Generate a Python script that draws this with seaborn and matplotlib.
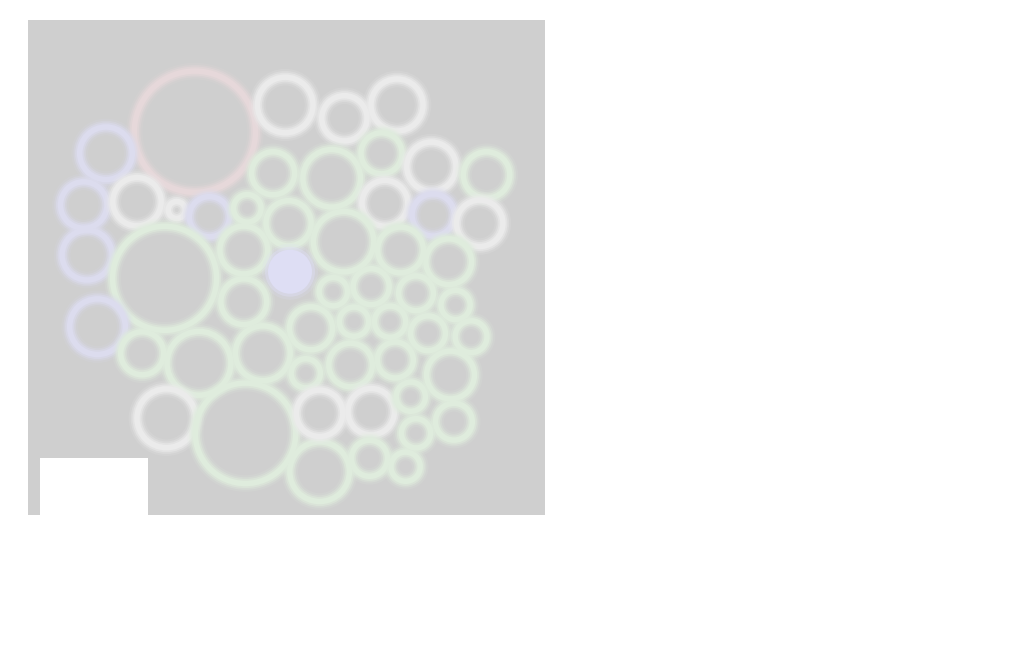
import matplotlib
matplotlib.use("Agg")
import matplotlib.pyplot as plt
import seaborn as sns
from matplotlib.patches import Circle, Rectangle

# Packed circles: centre x, centre y, radius (pixel-like units), group
x = [166.9, 257.2, 316.4, 369.0, 78.0, 55.7, 109.0, 148.7, 181.4, 59.1,
     136.6, 69.5, 114.2, 171.0, 138.4, 217.5, 291.6, 245.1, 303.7, 353.5,
     403.4, 458.6, 219.3, 260.6, 356.9, 405.2, 451.7, 215.8, 315.6, 372.5,
     420.7, 262.0, 215.8, 305.3, 343.2, 388.0, 427.6, 283.0, 326.0, 362.1,
     400.0, 443.1, 234.8, 277.8, 322.6, 367.3, 422.5, 291.6, 343.2, 382.8,
     425.9, 388.0, 341.5, 377.6]
y = [383.3, 410.0, 396.7, 410.0, 361.7, 310.0, 313.3, 305.0, 298.3, 260.0,
     236.7, 188.3, 161.7, 151.7, 96.7, 81.7, 43.3, 341.7, 336.7, 361.7,
     348.3, 340.0, 306.7, 291.7, 311.7, 300.0, 291.7, 265.0, 273.3, 265.0,
     253.3, 243.3, 213.3, 223.3, 228.3, 221.7, 210.0, 186.7, 193.3, 193.3,
     181.7, 178.3, 161.7, 141.7, 150.0, 155.0, 140.0, 101.7, 103.3, 118.3,
     93.3, 81.7, 56.7, 48.3]
r = [60.6, 27.8, 22.6, 26.0, 26.3, 23.2, 24.2, 8.5, 20.1, 25.0,
     52.0, 27.8, 21.5, 31.9, 29.4, 50.2, 29.8, 21.5, 28.8, 20.5,
     24.6, 23.2, 13.8, 22.6, 22.9, 21.1, 23.2, 23.9, 30.2, 22.9,
     22.9, 22.0, 22.9, 14.2, 18.0, 17.4, 14.6, 21.5, 14.6, 15.6,
     17.4, 15.9, 27.4, 14.6, 21.8, 18.0, 23.9, 23.2, 23.2, 14.6,
     18.4, 14.6, 18.0, 14.6]
group = ["red", "white", "white", "white", "blue", "blue", "white", "white", "blue", "blue",
         "green", "blue", "green", "green", "white", "green", "green", "green", "green", "green",
         "white", "green", "green", "green", "white", "blue", "white", "green", "green", "green",
         "green", "blue_fill", "green", "green", "green", "green", "green", "green", "green", "green",
         "green", "green", "green", "green", "green", "green", "green", "white", "white", "green",
         "green", "green", "green", "green"]

ring_colors = {"red": "#e6d8da", "white": "#ebebeb", "blue": "#dcdcee",
               "green": "#dfecdd", "blue_fill": "#dedef4"}
bg = "#cfcfcf"

sns.set_theme(style="white")

fig = plt.figure(figsize=(10.17, 6.51), dpi=100)
ax = fig.add_axes([28 / 1017, 136 / 651, 517 / 1017, 495 / 651])
ax.set_facecolor(bg)
ax.set_xlim(0, 517)
ax.set_ylim(0, 495)
ax.set_xticks([])
ax.set_yticks([])
for s in ax.spines.values():
    s.set_visible(False)

# soft rings: several strokes to mimic the blurred look
for xi, yi, ri, g in zip(x, y, r, group):
    col = ring_colors[g]
    if g == "blue_fill":
        for rr, a in [(ri + 6, 0.2), (ri + 3, 0.45), (ri, 1.0)]:
            ax.add_patch(Circle((xi, yi), rr, facecolor=col, edgecolor="none", alpha=a))
        continue
    for lw, a in [(12, 0.15), (9, 0.3), (6.5, 0.55), (4, 1.0)]:
        ax.add_patch(Circle((xi, yi), ri, fill=False, edgecolor=col, linewidth=lw, alpha=a))

# empty white box in the lower-left corner
ax.add_patch(Rectangle((12 / 517, 0), 108 / 517, 57 / 495, transform=ax.transAxes,
                       facecolor="white", edgecolor="none", zorder=5))

fig.savefig("out.png", dpi=100)
